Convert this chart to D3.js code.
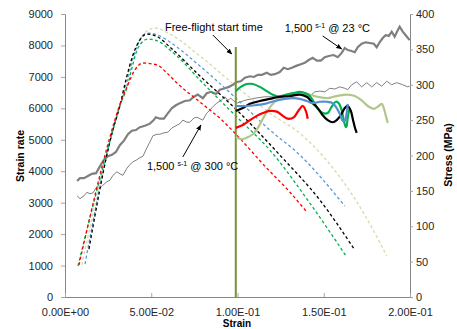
<!DOCTYPE html>
<html>
<head>
<meta charset="utf-8">
<script src="https://cdn.jsdelivr.net/npm/d3@7"></script>
<style>
    body { margin: 0; background: #fff; }
    svg text { font-family: "Liberation Sans", Arial, sans-serif; }
</style>
</head>
<body>
<div id="chart"></div>
<script>

// Strain rate (left axis), dashed curves: [strain, strain rate]
const rateRed = [[0.0081,1018],[0.0272,5311],[0.0307,5947],[0.0359,6678],[0.0405,7219],[0.0452,7441],[0.0533,7378],[0.0591,7123],[0.0649,6805],[0.0782,6201],[0.0909,5629],[0.0990,5183],[0.1158,4166],[0.1303,3339],[0.1402,2703]]
const rateGreen = [[0.0075,986],[0.0278,5311],[0.0319,6106],[0.0359,6646],[0.0388,7282],[0.0423,7918],[0.0481,8204],[0.0550,8109],[0.0608,7855],[0.0649,7664],[0.0782,6901],[0.0990,5756],[0.1187,4675],[0.1419,2989],[0.1633,1272]]
const rateBlack = [[0.0139,1526],[0.0272,5200],[0.0319,6106],[0.0353,6901],[0.0394,7696],[0.0434,8173],[0.0475,8363],[0.0539,8268],[0.0608,7950],[0.0782,7028],[0.0990,5978],[0.1245,4516],[0.1477,3085],[0.1680,1495]]
const rateBlue = [[0.0116,1049],[0.0278,5311],[0.0319,6074],[0.0359,6837],[0.0400,7696],[0.0434,8173],[0.0475,8395],[0.0550,8300],[0.0608,8109],[0.0782,7346],[0.0990,6328],[0.1187,5311],[0.1361,4516],[0.1622,2894]]
const rateOlive = [[0.0098,1018],[0.0278,5311],[0.0319,6106],[0.0359,6964],[0.0400,7791],[0.0446,8300],[0.0521,8554],[0.0608,8363],[0.0782,7664],[0.0990,6710],[0.1187,5851],[0.1373,5152],[0.1593,3816],[0.1738,2608],[0.1865,1304]]

// Stress (right axis), reference tests: [strain, MPa]
const stress23 = [[0.0070,164],[0.0087,168],[0.0110,168],[0.0133,171],[0.0156,174],[0.0180,175],[0.0203,185],[0.0226,194],[0.0249,199],[0.0272,201],[0.0295,205],[0.0319,215],[0.0342,221],[0.0365,230],[0.0388,235],[0.0411,236],[0.0434,240],[0.0463,242],[0.0492,245],[0.0510,249],[0.0527,254],[0.0550,252],[0.0573,252],[0.0597,260],[0.0620,267],[0.0643,271],[0.0666,274],[0.0695,277],[0.0724,278],[0.0747,283],[0.0770,286],[0.0799,281],[0.0822,288],[0.0846,290],[0.0875,287],[0.0898,293],[0.0927,295],[0.0950,297],[0.0973,300],[0.0996,304],[0.1019,305],[0.1043,310],[0.1072,312],[0.1095,311],[0.1118,314],[0.1141,314],[0.1170,317],[0.1193,314],[0.1216,315],[0.1245,318],[0.1268,324],[0.1292,322],[0.1315,324],[0.1344,327],[0.1367,329],[0.1390,331],[0.1413,335],[0.1436,338],[0.1460,334],[0.1483,334],[0.1506,339],[0.1535,341],[0.1558,342],[0.1581,339],[0.1604,345],[0.1622,352],[0.1639,349],[0.1657,348],[0.1680,346],[0.1697,353],[0.1720,358],[0.1743,360],[0.1767,359],[0.1790,358],[0.1807,353],[0.1824,360],[0.1842,366],[0.1859,370],[0.1877,369],[0.1894,375],[0.1911,368],[0.1929,377],[0.1940,382],[0.1958,375],[0.1975,370],[0.1998,363]]
const stress300 = [[0.0070,143],[0.0087,139],[0.0110,143],[0.0127,148],[0.0145,146],[0.0162,147],[0.0185,156],[0.0203,154],[0.0220,158],[0.0243,163],[0.0261,165],[0.0278,172],[0.0301,177],[0.0319,174],[0.0336,172],[0.0359,182],[0.0376,187],[0.0394,191],[0.0417,194],[0.0434,197],[0.0452,199],[0.0475,211],[0.0492,219],[0.0510,228],[0.0533,230],[0.0550,230],[0.0573,232],[0.0597,233],[0.0620,239],[0.0643,242],[0.0666,245],[0.0683,250],[0.0707,247],[0.0724,247],[0.0747,253],[0.0765,254],[0.0782,252],[0.0799,250],[0.0822,260],[0.0840,264],[0.0857,269],[0.0880,274],[0.0898,277],[0.0915,280],[0.0927,283],[0.0944,278],[0.0961,281],[0.0979,277],[0.0996,274],[0.1043,278],[0.1101,281],[0.1158,283],[0.1216,283],[0.1274,286],[0.1332,286],[0.1361,288],[0.1390,283],[0.1419,284],[0.1448,290],[0.1477,291],[0.1506,290],[0.1535,295],[0.1564,294],[0.1593,297],[0.1622,295],[0.1639,293],[0.1662,300],[0.1691,304],[0.1720,297],[0.1749,303],[0.1778,297],[0.1807,303],[0.1836,298],[0.1865,305],[0.1894,300],[0.1923,303],[0.1958,300],[0.1987,297],[0.1998,298]]

// Stress after free-flight start: [strain, MPa]
const stressGreen = [[0.0990,291],[0.1019,297],[0.1054,301],[0.1089,301],[0.1129,297],[0.1170,291],[0.1205,286],[0.1245,283],[0.1286,286],[0.1321,288],[0.1361,290],[0.1396,288],[0.1419,284],[0.1442,276],[0.1465,266],[0.1494,260],[0.1523,260],[0.1546,269],[0.1570,276],[0.1587,274],[0.1604,264],[0.1616,250],[0.1628,240],[0.1633,242],[0.1639,254],[0.1651,267]]
const stressBlue = [[0.0990,270],[0.1043,270],[0.1101,271],[0.1158,273],[0.1216,277],[0.1274,280],[0.1321,281],[0.1361,280],[0.1402,277],[0.1436,274],[0.1477,276],[0.1518,276],[0.1552,274],[0.1575,267],[0.1593,259],[0.1610,249],[0.1622,249],[0.1633,260],[0.1639,273]]
const stressBlack = [[0.0990,263],[0.1031,267],[0.1072,273],[0.1129,277],[0.1187,280],[0.1245,283],[0.1303,284],[0.1361,286],[0.1402,283],[0.1436,274],[0.1465,267],[0.1494,257],[0.1523,250],[0.1552,247],[0.1575,250],[0.1599,257],[0.1622,267],[0.1639,270],[0.1657,263],[0.1668,252],[0.1680,240],[0.1691,232]]
const stressRed = [[0.0990,239],[0.1031,243],[0.1072,250],[0.1112,256],[0.1147,260],[0.1187,263],[0.1228,262],[0.1263,256],[0.1292,252],[0.1326,254],[0.1355,264],[0.1379,270],[0.1396,263],[0.1407,252]]
const stressOlive = [[0.0990,226],[0.1025,223],[0.1060,226],[0.1089,230],[0.1118,239],[0.1147,252],[0.1176,264],[0.1216,276],[0.1263,284],[0.1315,288],[0.1361,288],[0.1419,286],[0.1465,283],[0.1518,281],[0.1575,284],[0.1633,286],[0.1680,284],[0.1720,278],[0.1755,270],[0.1790,266],[0.1819,270],[0.1836,273],[0.1848,267],[0.1859,257],[0.1871,246]]

const freeFlightStrain = 0.099
const freeFlightTop = 7950

const strainTicks = [0, 0.05, 0.1, 0.15, 0.2]
const strainTickLabels = ["0.00E+00", "5.00E-02", "1.00E-01", "1.50E-01", "2.00E-01"]
const rateTicks = d3.range(0, 9001, 1000)
const stressTicks = d3.range(0, 401, 50)

// Create SVG
const svg = d3.select("#chart")
    .append("svg")
    .attr("width", 457)
    .attr("height", 329)

const x = d3.scaleLinear().domain([0, 0.2]).range([65, 410])
const yRate = d3.scaleLinear().domain([0, 9000]).range([297, 14])
const yStress = d3.scaleLinear().domain([0, 400]).range([297, 14])

// Axes
const styleAxis = g => {
    g.select(".domain").attr("stroke", "#868686")
    g.selectAll(".tick line").attr("stroke", "#a6a6a6")
    g.selectAll(".tick text").attr("fill", "#262626").style("font-size", "11px")
}

svg.append("g")
    .attr("transform", "translate(65,0)")
    .call(d3.axisLeft(yRate).tickValues(rateTicks).tickFormat(d3.format("d"))
        .tickSizeOuter(0).tickSize(4).tickPadding(8))
    .call(styleAxis)

svg.append("g")
    .attr("transform", "translate(410,0)")
    .call(d3.axisRight(yStress).tickValues(stressTicks).tickFormat(d3.format("d"))
        .tickSizeOuter(0).tickSize(3).tickPadding(3))
    .call(styleAxis)

svg.append("g")
    .attr("transform", "translate(0,297)")
    .call(d3.axisBottom(x).tickValues(strainTicks).tickFormat((d, i) => strainTickLabels[i])
        .tickSizeInner(-4).tickSizeOuter(0).tickPadding(11.5))
    .call(styleAxis)

// Axis titles
svg.append("text")
    .attr("transform", "translate(24,156) rotate(-90)")
    .attr("text-anchor", "middle")
    .style("font-size", "10.5px").style("font-weight", "bold")
    .text("Strain rate")

svg.append("text")
    .attr("transform", "translate(452,155) rotate(-90)")
    .attr("text-anchor", "middle")
    .style("font-size", "10.5px").style("font-weight", "bold")
    .text("Stress (MPa)")

svg.append("text")
    .attr("x", 237).attr("y", 327)
    .attr("text-anchor", "middle")
    .style("font-size", "10px").style("font-weight", "bold")
    .text("Strain")

// Line generators
const lineRate = d3.line().x(d => x(d[0])).y(d => yRate(d[1])).curve(d3.curveMonotoneX)
const lineRough = d3.line().x(d => x(d[0])).y(d => yStress(d[1]))
const lineSmooth = d3.line().x(d => x(d[0])).y(d => yStress(d[1])).curve(d3.curveCatmullRom.alpha(0.5))

// Reference stress curves
svg.append("path").datum(stress300).attr("d", lineRough)
    .attr("fill", "none").attr("stroke", "#808080").attr("stroke-width", 1)
svg.append("path").datum(stress23).attr("d", lineRough)
    .attr("fill", "none").attr("stroke", "#7f7f7f").attr("stroke-width", 2.2)

// Strain rate dashed curves
const rateSeries = [
    {data: rateOlive, color: "#d3dca8"},
    {data: rateBlue, color: "#5b9bd5"},
    {data: rateBlack, color: "#000000"},
    {data: rateGreen, color: "#00b050"},
    {data: rateRed, color: "#ff0000"}
]
svg.selectAll(".rate")
    .data(rateSeries)
    .enter()
    .append("path")
    .attr("class", "rate")
    .attr("d", d => lineRate(d.data))
    .attr("fill", "none")
    .attr("stroke", d => d.color)
    .attr("stroke-width", 1.3)
    .attr("stroke-dasharray", "3,2.5")

// Free-flight start line
svg.append("line")
    .attr("x1", x(freeFlightStrain)).attr("x2", x(freeFlightStrain))
    .attr("y1", yRate(freeFlightTop)).attr("y2", yRate(0))
    .attr("stroke", "#77933c").attr("stroke-width", 2)

// Stress after free-flight
const stressSeries = [
    {data: stressOlive, color: "#afc88a"},
    {data: stressRed, color: "#ff0000"},
    {data: stressGreen, color: "#00b050"},
    {data: stressBlack, color: "#000000"},
    {data: stressBlue, color: "#558ed5"}
]
svg.selectAll(".stress")
    .data(stressSeries)
    .enter()
    .append("path")
    .attr("class", "stress")
    .attr("d", d => lineSmooth(d.data))
    .attr("fill", "none")
    .attr("stroke", d => d.color)
    .attr("stroke-width", 2.2)

// Annotations
svg.append("defs").append("marker")
    .attr("id", "arrow")
    .attr("viewBox", "0 0 10 10")
    .attr("refX", 9).attr("refY", 5)
    .attr("markerWidth", 6).attr("markerHeight", 6)
    .attr("orient", "auto")
    .append("path").attr("d", "M0,1 L10,5 L0,9 z").attr("fill", "#000")

const arrow = (x1, y1, x2, y2) => svg.append("line")
    .attr("x1", x1).attr("y1", y1).attr("x2", x2).attr("y2", y2)
    .attr("stroke", "#000").attr("stroke-width", 1)
    .attr("marker-end", "url(#arrow)")

svg.append("text")
    .attr("x", x(0.0863)).attr("y", yRate(8459))
    .attr("text-anchor", "middle")
    .style("font-size", "11px")
    .text("Free-flight start time")
arrow(x(0.0857), yRate(8332), x(0.0967), yRate(7727))

function rateLabel(sx, sy, temp) {
    const t = svg.append("text")
        .attr("x", x(sx)).attr("y", yStress(sy))
        .style("font-size", "11px")
    t.append("tspan").text("1,500 ")
    t.append("tspan").attr("dy", -4).style("font-size", "7px").text("s-1")
    t.append("tspan").attr("dy", 4).text(" @ " + temp + " °C")
}
rateLabel(0.1274, 374.6, "23")
arrow(x(0.1494), yStress(368.9), x(0.1604), yStress(350.5))

rateLabel(0.0475, 179.5, "300")
arrow(x(0.0683), yStress(197.9), x(0.0788), yStress(243.1))

</script>
</body>
</html>
